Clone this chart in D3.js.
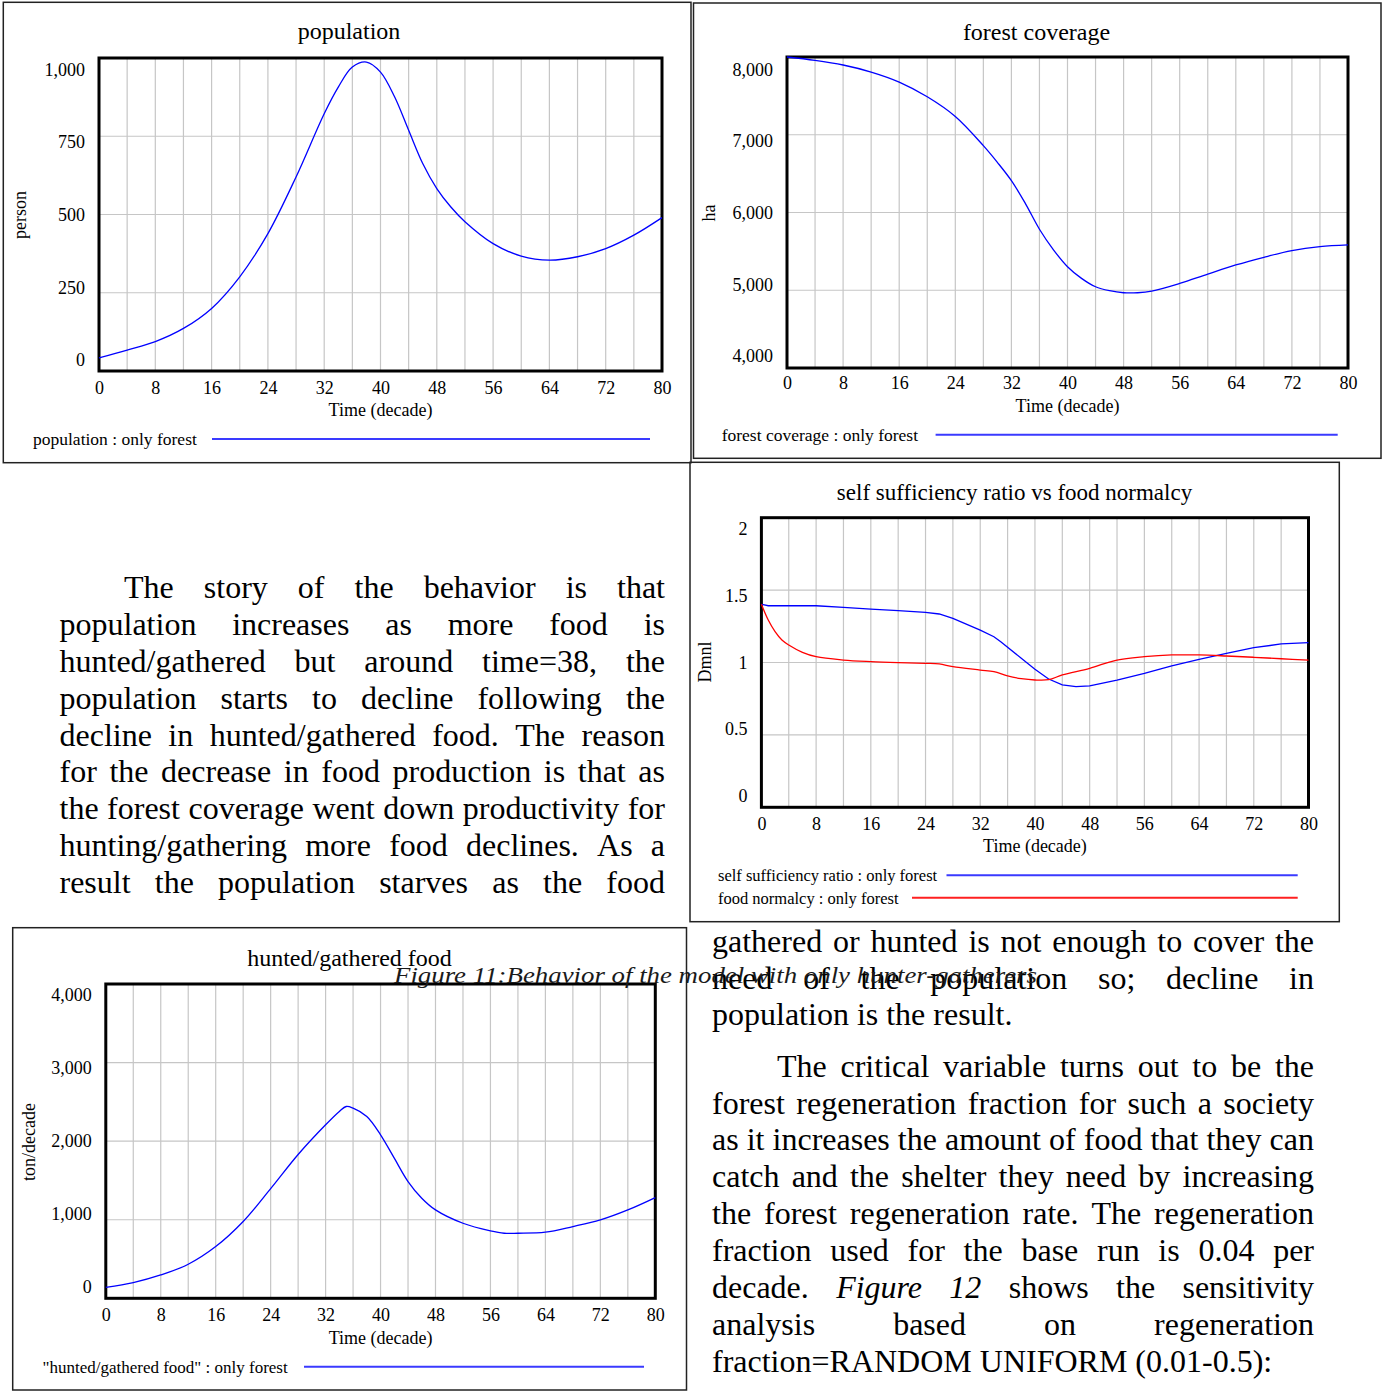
<!DOCTYPE html>
<html>
<head>
<meta charset="utf-8">
<script src="https://cdn.jsdelivr.net/npm/d3@7"></script>
<style>
  body { margin: 0; background: #fff; }
  svg text { font-family: "Liberation Serif", "Times New Roman", serif; fill: #000; }
</style>
</head>
<body>
<div id="page"></div>
<script>
'use strict';

// ---- shared time axis (decades) ----
var timeTicks = [0, 8, 16, 24, 32, 40, 48, 56, 64, 72, 80];
var timeGrid = [0, 4, 8, 12, 16, 20, 24, 28, 32, 36, 40, 44, 48, 52, 56, 60, 64, 68, 72, 76, 80];

// ---- population (person) ----
var popTicks = [0, 250, 500, 750, 1000];
var popTime = [0, 4, 8, 12, 16, 20, 24, 28, 32, 34, 36, 38, 40, 42, 44, 46, 48, 50, 52, 56, 60, 64, 68, 72, 76, 80];
var popValues = [42, 67, 94, 136, 200, 301, 439, 620, 822, 907, 971, 987, 955, 876, 769, 663, 583, 524, 477, 407, 367, 354, 365, 391, 434, 490];

// ---- forest coverage (ha) ----
var forestTicks = [4000, 5000, 6000, 7000, 8000];
var forestTime = [0, 4, 8, 12, 16, 20, 24, 28, 30, 32, 34, 36, 38, 40, 42, 44, 46, 48, 50, 52, 56, 60, 64, 68, 72, 76, 80];
var forestValues = [8000, 7957, 7897, 7806, 7677, 7488, 7235, 6860, 6645, 6410, 6115, 5785, 5520, 5303, 5153, 5045, 4994, 4968, 4968, 4989, 5088, 5208, 5325, 5424, 5510, 5561, 5583];

// ---- self sufficiency ratio / food normalcy (Dmnl) ----
var ratioTicks = [0, 0.5, 1, 1.5, 2];
var ssrTime = [0, 1, 8, 12, 16, 20, 24, 26, 28, 32, 34, 35, 38, 40, 42, 44, 46, 48, 52, 56, 60, 64, 68, 72, 76, 80];
var ssrValues = [1.402, 1.392, 1.392, 1.381, 1.369, 1.358, 1.346, 1.335, 1.305, 1.224, 1.178, 1.144, 1.029, 0.953, 0.886, 0.845, 0.833, 0.838, 0.879, 0.925, 0.976, 1.022, 1.063, 1.102, 1.128, 1.137];
var fnTime = [0, 1, 2, 3, 4, 6, 8, 12, 16, 20, 24, 26, 28, 32, 34, 36, 38, 40, 42, 44, 48, 52, 56, 60, 64, 68, 72, 76, 80];
var fnValues = [1.402, 1.293, 1.213, 1.155, 1.121, 1.070, 1.040, 1.017, 1.006, 0.999, 0.994, 0.990, 0.971, 0.948, 0.937, 0.907, 0.888, 0.879, 0.881, 0.914, 0.960, 1.017, 1.040, 1.052, 1.052, 1.045, 1.036, 1.026, 1.017];

// ---- hunted/gathered food (ton/decade) ----
var foodTicks = [0, 1000, 2000, 3000, 4000];
var foodTime = [0, 4, 8, 12, 16, 20, 24, 28, 32, 34, 35, 36, 38, 40, 42, 44, 46, 48, 52, 56, 58, 60, 64, 68, 72, 76, 80];
var foodValues = [140, 200, 297, 433, 658, 977, 1395, 1830, 2208, 2378, 2441, 2420, 2314, 2081, 1783, 1486, 1274, 1125, 955, 858, 828, 828, 841, 913, 998, 1125, 1282];

// ---- body text ----
var leftLines = [
  'The story of the behavior is that',
  'population increases as more food is',
  'hunted/gathered but around time=38, the',
  'population starts to decline following the',
  'decline in hunted/gathered food. The reason',
  'for the decrease in food production is that as',
  'the forest coverage went down productivity for',
  'hunting/gathering more food declines. As a',
  'result the population starves as the food'
];
var rightLinesA = [
  'gathered or hunted is not enough to cover the',
  'need of the population so; decline in',
  'population is the result.'
];
var rightLinesB = [
  'The critical variable turns out to be the',
  'forest regeneration fraction for such a society',
  'as it increases the amount of food that they can',
  'catch and the shelter they need by increasing',
  'the forest regeneration rate. The regeneration',
  'fraction used for the base run is 0.04 per',
  'decade. _Figure_ _12_ shows the sensitivity',
  'analysis based on regeneration',
  'fraction=RANDOM UNIFORM (0.01-0.5):'
];
var captionText = 'Figure 11:Behavior of the model with only hunter-gatherers';


var svg = d3.select('#page')
    .append('svg')
    .attr('width', 1387)
    .attr('height', 1391);

var commaFmt = d3.format(',');

function drawPanel(cfg) {

    var g = svg.append('g');

    g.append('rect')
        .attr('x', cfg.box[0]).attr('y', cfg.box[1])
        .attr('width', cfg.box[2] - cfg.box[0])
        .attr('height', cfg.box[3] - cfg.box[1])
        .attr('fill', 'none')
        .attr('stroke', '#222')
        .attr('stroke-width', 1.5);

    var x = d3.scaleLinear().domain([0, 80]).range([cfg.left, cfg.right]);
    var y = d3.scaleLinear().domain(cfg.yDomain).range([cfg.bottom, cfg.top]);
    // the tick labels sit a little inside the top/bottom grid lines
    var yLab = d3.scaleLinear().domain(cfg.yDomain).range(cfg.labelRange);

    g.selectAll('line.vgrid')
        .data(timeGrid)
        .join('line')
        .attr('class', 'vgrid')
        .attr('x1', d => x(d)).attr('x2', d => x(d))
        .attr('y1', cfg.top).attr('y2', cfg.bottom)
        .attr('stroke', '#c6c6c6')
        .attr('stroke-width', 1.2);

    g.selectAll('line.hgrid')
        .data(cfg.yTicks)
        .join('line')
        .attr('class', 'hgrid')
        .attr('x1', cfg.left).attr('x2', cfg.right)
        .attr('y1', d => y(d)).attr('y2', d => y(d))
        .attr('stroke', '#c6c6c6')
        .attr('stroke-width', 1.2);

    var yAxis = g.append('g')
        .attr('transform', 'translate(' + (cfg.left - 14) + ',0)')
        .call(d3.axisLeft(yLab).tickValues(cfg.yTicks).tickFormat(cfg.fmt).tickSize(0).tickPadding(0));
    yAxis.select('.domain').remove();
    yAxis.attr('font-family', null).attr('font-size', null);
    yAxis.selectAll('text').style('font-size', '18px');

    var xAxis = g.append('g')
        .attr('transform', 'translate(0,' + cfg.xLabelY + ')')
        .call(d3.axisBottom(x).tickValues(timeTicks).tickSize(0).tickPadding(0));
    xAxis.select('.domain').remove();
    xAxis.attr('font-family', null).attr('font-size', null);
    xAxis.selectAll('text').attr('y', 0).attr('dy', '0.32em').style('font-size', '18px');

    g.append('rect')
        .attr('x', cfg.left).attr('y', cfg.top)
        .attr('width', cfg.right - cfg.left)
        .attr('height', cfg.bottom - cfg.top)
        .attr('fill', 'none')
        .attr('stroke', '#000')
        .attr('stroke-width', 3);

    cfg.series.forEach(function (s) {
        var line = d3.line()
            .x(d => x(d[0]))
            .y(d => y(d[1]))
            .curve(s.smooth ? d3.curveCatmullRom.alpha(0.5) : d3.curveLinear);
        g.append('path')
            .datum(d3.zip(s.time, s.values))
            .attr('d', line)
            .attr('fill', 'none')
            .attr('stroke', s.color)
            .attr('stroke-width', 1.3);
    });

    g.append('text')
        .attr('x', cfg.titleX).attr('y', cfg.titleY)
        .attr('text-anchor', 'middle')
        .style('font-size', cfg.titleSize + 'px')
        .text(cfg.title);

    g.append('text')
        .attr('x', (cfg.left + cfg.right) / 2).attr('y', cfg.timeY)
        .attr('text-anchor', 'middle')
        .style('font-size', '18px')
        .text('Time (decade)');

    g.append('text')
        .attr('transform', 'translate(' + cfg.unitX + ',' + cfg.unitY + ') rotate(-90)')
        .attr('text-anchor', 'middle')
        .style('font-size', '18px')
        .text(cfg.unit);

    cfg.series.forEach(function (s) {
        g.append('text')
            .attr('x', cfg.legendX).attr('y', s.legendY + 6)
            .style('font-size', cfg.legendSize + 'px')
            .text(s.label);
        g.append('line')
            .attr('x1', s.legendLine[0]).attr('x2', s.legendLine[1])
            .attr('y1', s.legendY).attr('y2', s.legendY)
            .attr('stroke', s.legendColor)
            .attr('stroke-width', 2);
    });
}

drawPanel({
    box: [3.3, 2.3, 691, 462.7],
    left: 99, right: 662, top: 58, bottom: 371,
    yDomain: [0, 1000], yTicks: popTicks, fmt: commaFmt, labelRange: [360, 69.5],
    xLabelY: 388, timeY: 416,
    title: 'population', titleX: 349, titleY: 39, titleSize: 24,
    unit: 'person', unitX: 26, unitY: 215,
    legendX: 33, legendSize: 17.5,
    series: [
        { time: popTime, values: popValues, color: '#0000ff', smooth: true, label: 'population : only forest',
          legendY: 439, legendLine: [212, 650], legendColor: '#3a3aff' }
    ]
});

drawPanel({
    box: [693.5, 3, 1381, 458.3],
    left: 787, right: 1348, top: 57, bottom: 368,
    yDomain: [4000, 8000], yTicks: forestTicks, fmt: commaFmt, labelRange: [356, 69.3],
    xLabelY: 383, timeY: 412,
    title: 'forest coverage', titleX: 1036.5, titleY: 40, titleSize: 24,
    unit: 'ha', unitX: 715, unitY: 213,
    legendX: 721.7, legendSize: 17.5,
    series: [
        { time: forestTime, values: forestValues, color: '#0000ff', smooth: true, label: 'forest coverage : only forest',
          legendY: 434.7, legendLine: [935.6, 1337.7], legendColor: '#3a3aff' }
    ]
});

drawPanel({
    box: [690, 462.3, 1339.3, 921.7],
    left: 761.4, right: 1308.5, top: 517.7, bottom: 807.3,
    yDomain: [0, 2], yTicks: ratioTicks, fmt: d3.format(''), labelRange: [795.7, 529],
    xLabelY: 824, timeY: 852,
    title: 'self sufficiency ratio vs food normalcy', titleX: 1014.5, titleY: 500, titleSize: 23,
    unit: 'Dmnl', unitX: 711, unitY: 662,
    legendX: 718, legendSize: 16.5,
    series: [
        { time: ssrTime, values: ssrValues, color: '#0000ff', smooth: false, label: 'self sufficiency ratio : only forest',
          legendY: 875.3, legendLine: [946.5, 1297.7], legendColor: '#3a3aff' },
        { time: fnTime, values: fnValues, color: '#ff0000', smooth: true, label: 'food normalcy : only forest',
          legendY: 897.7, legendLine: [912, 1297.7], legendColor: '#ff2020' }
    ]
});

drawPanel({
    box: [12.7, 927.7, 686.5, 1390],
    left: 105.8, right: 655.3, top: 984, bottom: 1298.3,
    yDomain: [0, 4000], yTicks: foodTicks, fmt: commaFmt, labelRange: [1286.7, 995],
    xLabelY: 1315, timeY: 1344,
    title: 'hunted/gathered food', titleX: 349.5, titleY: 966, titleSize: 24,
    unit: 'ton/decade', unitX: 35, unitY: 1142,
    legendX: 42.5, legendSize: 17,
    series: [
        { time: foodTime, values: foodValues, color: '#0000ff', smooth: true, label: '"hunted/gathered food" : only forest',
          legendY: 1366.7, legendLine: [304, 644], legendColor: '#3a3aff' }
    ]
});


// ---- justified body text ----
var bodySize = 32;
var measure = svg.append('text').style('font-size', bodySize + 'px').attr('visibility', 'hidden');

function wordWidth(w) {
    measure.style('font-style', w.italic ? 'italic' : 'normal').text(w.text);
    return measure.node().getComputedTextLength();
}

function drawLine(str, x0, x1, baseline, justify) {
    var words = str.split(' ').map(function (s) {
        var it = s.length > 2 && s[0] === '_' && s[s.length - 1] === '_';
        return { text: it ? s.slice(1, -1) : s, italic: it };
    });
    var widths = words.map(wordWidth);
    var gap = (justify && words.length > 1)
        ? (x1 - x0 - d3.sum(widths)) / (words.length - 1)
        : wordWidth({ text: '\u00a0', italic: false });
    var t = svg.append('text').attr('y', baseline).style('font-size', bodySize + 'px');
    var cx = x0;
    words.forEach(function (w, i) {
        t.append('tspan')
            .attr('x', cx)
            .style('font-style', w.italic ? 'italic' : null)
            .text(w.text);
        cx += widths[i] + gap;
    });
}

leftLines.forEach(function (s, i) {
    drawLine(s, i === 0 ? 124 : 59.5, 665, 598.3 + i * 36.8, true);
});
rightLinesA.forEach(function (s, i) {
    drawLine(s, 712, 1314, 951.7 + i * 36.8, i < rightLinesA.length - 1);
});
rightLinesB.forEach(function (s, i) {
    drawLine(s, i === 0 ? 777 : 712, 1314, 1076.7 + i * 36.87, i < rightLinesB.length - 1);
});
measure.remove();

// figure caption, drawn last so it overlaps like in the page
svg.append('text')
    .attr('x', 394).attr('y', 983)
    .attr('textLength', 643)
    .attr('lengthAdjust', 'spacingAndGlyphs')
    .style('font-size', '24px')
    .style('font-style', 'italic')
    .style('fill', '#1a1a1a')
    .text(captionText);

</script>
</body>
</html>
